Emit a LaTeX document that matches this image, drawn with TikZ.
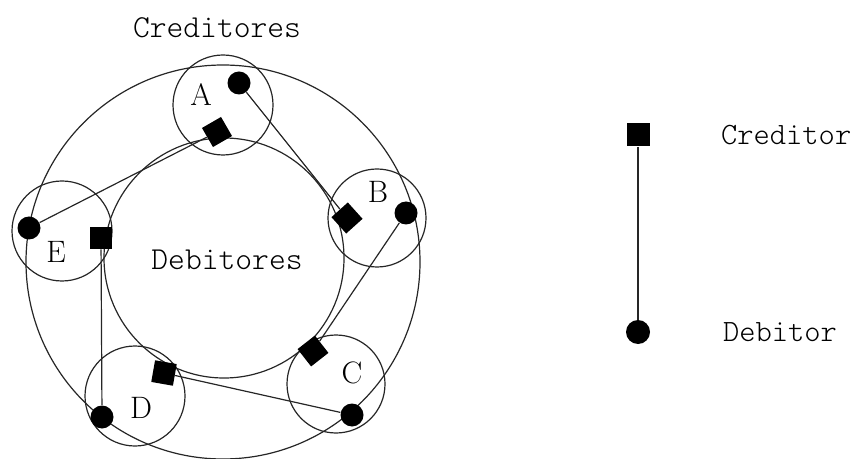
\documentclass[tikz,border=0pt]{standalone}
\usepackage{fontspec}
\newfontfamily\lightmono{lmmonolt10-regular.otf}
\usetikzlibrary{shapes.geometric}
\begin{document}
\begin{tikzpicture}[x=0.5pt,y=-0.5pt,
  ring/.style={draw=black!85,line width=0.6pt},
  debtor/.style={circle,fill=black,inner sep=0pt,minimum size=11.5pt},
  creditor/.style={rectangle,fill=black,inner sep=0pt,minimum size=11pt},
  link/.style={draw=black!85,line width=0.6pt},
  letter/.style={font=\fontsize{15.5}{15.5}\selectfont},
  caption/.style={font=\fontsize{16}{16}\selectfont\lightmono},
  keytext/.style={font=\fontsize{15.5}{15.5}\selectfont\lightmono,anchor=west}]
\useasboundingbox (0,0) rectangle (855,459);
% outer and inner rings
\draw[ring] (223,262) circle[radius=197];
\draw[ring] (224,258) circle[radius=120];
% the five members
\draw[ring] (223,105) circle[radius=50];
\draw[ring] (377,218) circle[radius=49];
\draw[ring] (336,384) circle[radius=49];
\draw[ring] (135,396) circle[radius=50];
\draw[ring] (62,231) circle[radius=50];
% labels
\node[caption] (tcred) at (217,28) {Creditores};
\node[caption] (tdeb) at (227,260) {Debitores};
\node[letter] (lA) at (201,95) {A};
\node[letter] (lB) at (378,192) {B};
\node[letter] (lC) at (352,373) {C};
\node[letter] (lD) at (141,408) {D};
\node[letter] (lE) at (56,252) {E};
% debtor dots
\node[debtor] (dA) at (239,83) {};
\node[debtor] (dB) at (406,213) {};
\node[debtor] (dC) at (352,415) {};
\node[debtor] (dD) at (102,417) {};
\node[debtor] (dE) at (29,228) {};
% creditor squares
\node[creditor,rotate=30] (sA) at (217,132) {};
\node[creditor,rotate=42] (sB) at (347,218) {};
\node[creditor,rotate=38] (sC) at (313,351) {};
\node[creditor,rotate=-10] (sD) at (164,373) {};
\node[creditor] (sE) at (101,238) {};
% debtor -> creditor links
\draw[link] (dA) -- (sB);
\draw[link] (dB) -- (sC);
\draw[link] (dC) -- (sD);
\draw[link] (dD) -- (sE);
\draw[link] (dE) -- (sA);
% legend
\node[creditor,minimum size=11.5pt] (lgc) at (638,135) {};
\node[debtor,minimum size=12pt] (lgd) at (638,332) {};
\draw[link] (lgc) -- (lgd);
\node[keytext] (tlc) at (714,135) {Creditor};
\node[keytext] (tld) at (716,332) {Debitor};
\end{tikzpicture}
\end{document}
